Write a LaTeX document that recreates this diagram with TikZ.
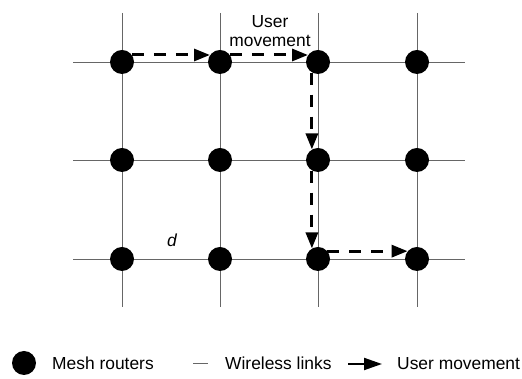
\documentclass[tikz,border=0pt]{standalone}
\usepackage{fontspec}
\setmainfont{Liberation Sans}
\usetikzlibrary{arrows.meta}
\begin{document}
\begin{tikzpicture}[x=1pt,y=1pt,
  router/.style={circle,fill=black,minimum size=24pt,inner sep=0pt},
  link/.style={draw=black!60,line width=0.8pt},
  move/.style={line width=3pt,dash pattern=on 12pt off 10pt,-{Triangle[length=16pt,width=12pt]}},
  lbl/.style={font=\fontsize{17.4}{19}\selectfont,inner sep=0pt}]
\useasboundingbox (0,0) rectangle (522,379);
% grid links
\foreach \c/\x in {1/122,2/220,3/318,4/417} {
  \coordinate (vt\c) at (\x,366);
  \coordinate (vb\c) at (\x,72);
  \draw[link] (vt\c) -- (vb\c);
}
\foreach \r/\y in {1/317,2/219,3/120} {
  \coordinate (hl\r) at (73,\y);
  \coordinate (hr\r) at (465,\y);
  \draw[link] (hl\r) -- (hr\r);
}
% routers
\foreach \r/\y in {1/317,2/219,3/120} {
  \foreach \c/\x in {1/122,2/220,3/318,4/417} {
    \node[router] (n\r\c) at (\x,\y) {};
  }
}
% user movement
\draw[move] (n11.35) -- (n12.145);
\draw[move] (n12.35) -- (n13.145);
\draw[move] (n13.240) -- (n23.120);
\draw[move] (n23.240) -- (n33.120);
\draw[move] (n33.40) -- (n34.140);
% labels
\node[lbl,align=center] (um) at (270,348) {User\\movement};
\node[lbl] (d) at (172,139) {\itshape d};
% legend
\node[router] (lr) at (24,16) {};
\node[lbl,anchor=base west] (lrt) at (52,9) {Mesh routers};
\coordinate (ll1) at (193,16);
\coordinate (ll2) at (208,16);
\draw[link] (ll1) -- (ll2);
\node[lbl,anchor=base west] (llt) at (225,9) {Wireless links};
\coordinate (la1) at (348,15);
\coordinate (la2) at (382,15);
\draw[line width=2pt,-{Triangle[length=18pt,width=12pt]}] (la1) -- (la2);
\node[lbl,anchor=base west] (lat) at (397,9) {User movement};
\end{tikzpicture}
\end{document}
